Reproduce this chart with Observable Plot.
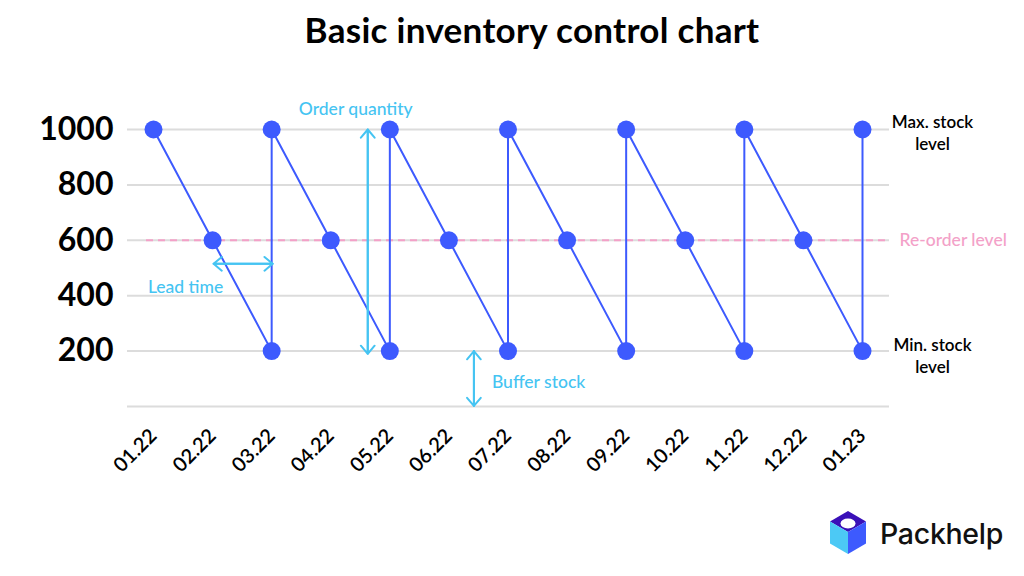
<!DOCTYPE html>
<html>
<head>
<meta charset="utf-8">
<script src="https://cdn.jsdelivr.net/npm/d3@7"></script>
<script src="https://cdn.jsdelivr.net/npm/@observablehq/plot@0.6"></script>
<style>
  html, body { margin: 0; padding: 0; background: #fff; }
  body { width: 1024px; height: 576px; position: relative; overflow: hidden; font-family: Lato, "Noto Sans", sans-serif; }
  #title { height: 60px; line-height: 58px; text-align: center; font-size: 35px; font-weight: 700; color: #000; padding-left: 40px; letter-spacing: 0.3px; }
  #logo { position: absolute; left: 828px; top: 510px; display: flex; align-items: center; }
  #logo span { font-family: Inter, Lato, sans-serif; font-size: 28.5px; font-weight: 500; color: #111; margin-left: 12px; letter-spacing: -0.3px; }
</style>
</head>
<body>
<div id="title">Basic inventory control chart</div>
<div id="chart"></div>
<div id="logo">
  <svg width="40" height="46" viewBox="0 0 40 46">
    <polygon points="20,1 38,11.5 20,22 2,11.5" fill="#3a10b8"/>
    <ellipse cx="20" cy="13.5" rx="7.5" ry="5" fill="#fff"/>
    <polygon points="2,11.5 20,22 20,44 2,33.5" fill="#4cc9f5"/>
    <polygon points="38,11.5 20,22 20,44 38,33.5" fill="#3d5afe"/>
  </svg>
  <span>Packhelp</span>
</div>
<script>
// Categories (x axis)
const months = ["01.22","02.22","03.22","04.22","05.22","06.22","07.22","08.22","09.22","10.22","11.22","12.22","01.23"];
// Stock series (ordered path)
const pathMonth = ["01.22","02.22","03.22","03.22","04.22","05.22","05.22","06.22","07.22","07.22","08.22","09.22","09.22","10.22","11.22","11.22","12.22","01.23","01.23"];
const pathStock = [1000,600,200,1000,600,200,1000,600,200,1000,600,200,1000,600,200,1000,600,200,1000];
// Y ticks
const yTicks = [200,400,600,800,1000];
const gridLevels = [0,200,400,600,800,1000];
// Levels
const maxLevel = 1000, reorderLevel = 600, minLevel = 200;
// Annotations
const leadTime = {from: "02.22", to: "03.22", value: 515};
const orderQty = {month: "04.22", from: 190, to: 1000};
const buffer = {month: "06.22", from: 2, to: 200};

const data = pathMonth.map((m, i) => ({month: m, stock: pathStock[i]}));

const blue = "#3d5afe";
const cyan = "#45c4f2";
const pink = "#f3a1c8";
const arrowStyle = {stroke: cyan, strokeWidth: 2, headLength: 8, headAngle: 80};

const plot = Plot.plot({
  width: 1024,
  height: 516,
  marginTop: 69,
  marginBottom: 170,
  marginLeft: 127,
  marginRight: 135,
  style: {fontFamily: "Lato, 'Noto Sans', sans-serif", background: "transparent"},
  x: {type: "point", domain: months, range: [153, 862], padding: 0, round: false, label: null},
  y: {domain: [0, 1000], label: null},
  marks: [
    Plot.ruleY(gridLevels, {stroke: "#dcdcdc", strokeWidth: 2}),
    Plot.ruleY([reorderLevel], {stroke: pink, strokeWidth: 2, strokeDasharray: "7,5", insetLeft: 19, insetRight: 4}),
    Plot.axisY({ticks: yTicks, tickSize: 0, tickPadding: 14, fontSize: 32, fontWeight: 700, fill: "#000", tickFormat: d => String(d), label: null}),
    Plot.axisX({tickSize: 0, tickPadding: 26, tickRotate: -45, fontSize: 20, fontWeight: 600, fill: "#000", label: null}),
    Plot.line(data, {x: "month", y: "stock", stroke: blue, strokeWidth: 2}),
    Plot.dot(data, {x: "month", y: "stock", r: 9, fill: blue, stroke: "none"}),
    // Lead time double arrow
    Plot.arrow([leadTime], {x1: "from", x2: "to", y1: "value", y2: "value", dx: 1, ...arrowStyle}),
    Plot.arrow([leadTime], {x1: "to", x2: "from", y1: "value", y2: "value", dx: 1, ...arrowStyle}),
    Plot.text([leadTime], {x: "from", y: () => 430, text: () => "Lead time", dx: -27, fill: cyan, fontSize: 17.5, fontWeight: 500}),
    // Order quantity double arrow
    Plot.arrow([orderQty], {x: "month", y1: "from", y2: "to", dx: 37, ...arrowStyle}),
    Plot.arrow([orderQty], {x: "month", y1: "to", y2: "from", dx: 37, ...arrowStyle}),
    Plot.text([orderQty], {x: "month", y: () => 1072, text: () => "Order quantity", dx: 25, fill: cyan, fontSize: 17.5, fontWeight: 500}),
    // Buffer stock double arrow
    Plot.arrow([buffer], {x: "month", y1: "from", y2: "to", dx: 25, ...arrowStyle}),
    Plot.arrow([buffer], {x: "month", y1: "to", y2: "from", dx: 25, ...arrowStyle}),
    Plot.text([buffer], {x: "month", y: () => 87, text: () => "Buffer stock", dx: 43, textAnchor: "start", fill: cyan, fontSize: 17.5, fontWeight: 500}),
    // Right side labels
    Plot.text([maxLevel], {x: () => "01.23", y: d => d, text: () => "Max. stock\nlevel", dx: 70, dy: 2, lineHeight: 1.3, fill: "#000", fontSize: 17, fontWeight: 600}),
    Plot.text([minLevel], {x: () => "01.23", y: d => d, text: () => "Min. stock\nlevel", dx: 70, dy: 4, lineHeight: 1.3, fill: "#000", fontSize: 17, fontWeight: 600}),
    Plot.text([reorderLevel], {x: () => "01.23", y: d => d, text: () => "Re-order level", dx: 37, textAnchor: "start", fill: pink, fontSize: 17.5, fontWeight: 500})
  ]
});
plot.style.overflow = "visible";
document.getElementById("chart").appendChild(plot);
</script>
</body>
</html>
